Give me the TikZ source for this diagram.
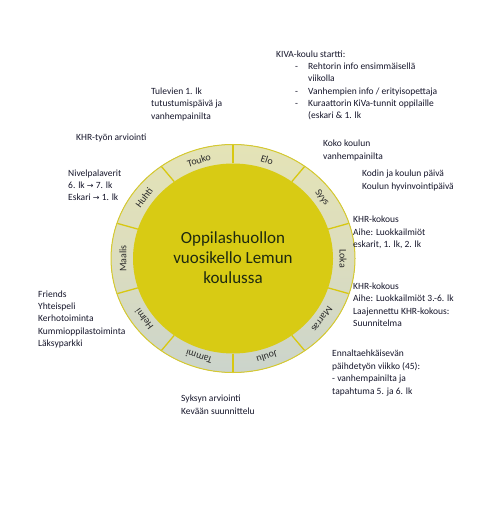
\documentclass[tikz,border=0pt]{standalone}
\usepackage{fontspec}
\setmainfont{Carlito}
\newfontfamily\arrowfont{DejaVu Sans}
\definecolor{ringtop}{HTML}{E4E3B6}
\definecolor{ringmid}{HTML}{DCDDBE}
\definecolor{ringbot}{HTML}{CBD4CC}
\definecolor{ringline}{HTML}{D6CA30}
\definecolor{innercol}{HTML}{D8CB14}
\definecolor{sepcol}{HTML}{D8C810}
\definecolor{notecol}{HTML}{15152A}
\definecolor{titlecol}{HTML}{1F2A10}
\definecolor{monthcol}{HTML}{2B2B2B}
\newcommand{\arr}{{\arrowfont\fontsize{8}{10}\selectfont →}}
\newcommand{\bul}{\makebox[32pt][l]{\hspace*{19pt}-}}
\begin{document}
\begin{tikzpicture}[x=1pt,y=-1pt,
  note/.style={anchor=base west, inner sep=0pt, align=left, text=notecol,
    font=\fontsize{9.5}{12.5}\selectfont},
  month/.style={font=\fontsize{10}{12}\selectfont, text=monthcol, inner sep=0pt},
  sepline/.style={draw=sepcol, line width=1.3pt}]
\useasboundingbox (0,0) rectangle (476,526);
% ring
\fill[top color=ringtop, bottom color=ringbot, middle color=ringmid] (233,258.5) ellipse [x radius=122, y radius=114];
\draw[ringline, line width=1pt] (233,258.5) ellipse [x radius=122, y radius=114];
\fill[innercol] (233,258.5) ellipse [x radius=100, y radius=95];
\foreach \a in {90,54,18,-18,-54,-90,-126,-162,162,126}
  \draw[sepline] ({233+100*cos(\a)},{258.5-95*sin(\a)}) -- ({233+121.5*cos(\a)},{258.5-113.5*sin(\a)});
% months
\foreach \m/\a in {Elo/72,Syys/36,Loka/0,Marras/-36,Joulu/-72,Tammi/-108,Helmi/-144,Maalis/180,Huhti/144,Touko/108}
  \node[month, rotate=\a-90] (m-\m) at ({233+110*cos(\a)},{258.5-103.5*sin(\a)}) {\m};
% title
\node[font=\fontsize{17}{20}\selectfont, align=center, text=titlecol, inner sep=0pt] (title) at (233,258) {Oppilashuollon\\vuosikello Lemun\\koulussa};
% notes (anchor = baseline of the last line)
\node[note, font=\fontsize{9.5}{12.2}\selectfont] (kiva) at (276,118.5) {KIVA-koulu startti:\\
\bul Rehtorin info ensimmäisellä\\
\hspace*{32pt}viikolla\\
\bul Vanhempien info / erityisopettaja\\
\bul Kuraattorin KiVa-tunnit oppilaille\\
\hspace*{32pt}(eskari \& 1. lk};
\node[note, font=\fontsize{9.5}{13.5}\selectfont] (koko) at (323,160) {Koko koulun\\vanhempainilta};
\node[note, font=\fontsize{9.5}{13}\selectfont] (kodin) at (362,189.5) {Kodin ja koulun päivä\\Koulun hyvinvointipäivä};
\node[note] (khr1) at (353,247.5) {KHR-kokous\\Aihe: Luokkailmiöt\\eskarit, 1. lk, 2. lk};
\node[note, font=\fontsize{9.5}{12.3}\selectfont] (khr2) at (353,326.4) {KHR-kokous\\Aihe: Luokkailmiöt 3.-6. lk\\Laajennettu KHR-kokous:\\Suunnitelma};
\node[note, font=\fontsize{9.5}{12.7}\selectfont] (ennalta) at (332,394.6) {Ennaltaehkäisevän\\päihdetyön viikko (45):\\- vanhempainilta ja\\tapahtuma 5. ja 6. lk};
\node[note, font=\fontsize{9.5}{13}\selectfont] (syksyn) at (181,414.5) {Syksyn arviointi\\Kevään suunnittelu};
\node[note, font=\fontsize{9.5}{12.2}\selectfont] (friends) at (38,346.3) {Friends\\Yhteispeli\\Kerhotoiminta\\Kummioppilastoiminta\\Läksyparkki};
\node[note, font=\fontsize{9.5}{12}\selectfont] (nivel) at (68,200.5) {Nivelpalaverit\\6. lk \arr{} 7. lk\\Eskari \arr{} 1. lk};
\node[note] (khrtyo) at (76,140.5) {KHR-työn arviointi};
\node[note] (tulevien) at (151,119.5) {Tulevien 1. lk\\tutustumispäivä ja\\vanhempainilta};
\end{tikzpicture}
\end{document}
